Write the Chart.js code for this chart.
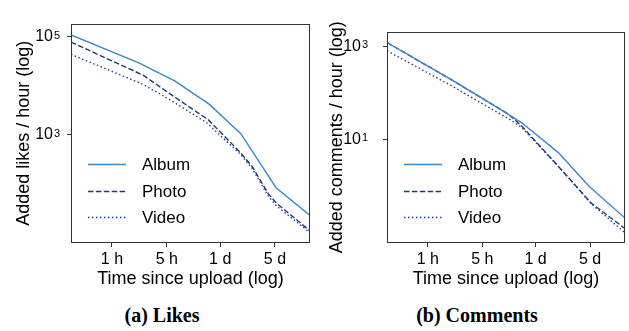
<!DOCTYPE html>
<html>
<head>
<meta charset="utf-8">
<script src="https://cdn.jsdelivr.net/npm/chart.js@4.4.1/dist/chart.umd.min.js"></script>
<style>
  html, body { margin: 0; padding: 0; background: #fff; }
  #page { position: relative; width: 629px; height: 331px; overflow: hidden; }
  .panel { position: absolute; top: 0; height: 292px; }
  .caption { position: absolute; top: 304px; font: bold 20px "Liberation Serif", "Times New Roman", serif; color: #000; transform: translateX(-50%); white-space: nowrap; }
</style>
</head>
<body>
<div id="page">
  <div class="panel" style="left:0;width:315px"><canvas id="likes" width="315" height="292"></canvas></div>
  <div class="panel" style="left:315px;width:314px"><canvas id="comments" width="314" height="292"></canvas></div>
  <div class="caption" style="left:162px">(a) Likes</div>
  <div class="caption" style="left:477px">(b) Comments</div>
</div>
<script>
// time since upload, in hours
const xTicks = [1, 5, 24, 120]
const xTickLabels = ["1 h", "5 h", "1 d", "5 d"]

// likes / hour
const likesAlbumHours = [0.3, 2.2, 6.4, 17.5, 44, 124, 336]
const likesAlbum      = [108000, 29200, 12300, 4140, 1045, 83, 22.5]
const likesPhotoHours = [0.3, 2.5, 5.8, 17, 43, 61, 99, 126, 336]
const likesPhoto      = [77100, 16300, 6400, 2000, 440, 228, 62, 40, 10.9]
const likesVideoHours = [0.3, 2.5, 5.5, 16.2, 43, 61, 99, 126, 336]
const likesVideo      = [43300, 10600, 5140, 1740, 406, 209, 56, 35, 10.1]
const likesYTicks = [1e3, 1e5]

// comments / hour
const commentsAlbumHours = [0.3, 2, 6.3, 16, 47, 118, 336]
const commentsAlbum      = [1216, 193, 60, 22.6, 5.15, 0.944, 0.2]
const commentsPhotoHours = [0.3, 2, 6.3, 10.7, 16, 47, 124, 336]
const commentsPhoto      = [1216, 193, 60, 35.2, 19.2, 2.61, 0.42, 0.119]
const commentsVideoHours = [0.3, 2, 6.3, 10.7, 16, 47, 124, 336]
const commentsVideo      = [809, 143, 46.5, 28.2, 17.9, 2.61, 0.407, 0.096]
const commentsYTicks = [1e1, 1e3]

const FAMILY = '"Liberation Sans", Arial, Helvetica, sans-serif'

const pts = (xs, ys) => xs.map((x, i) => ({ x: x, y: ys[i] }))

function series(albumX, albumY, photoX, photoY, videoX, videoY) {
  return [
    { label: "Album", data: pts(albumX, albumY), borderColor: "#3b88c9", borderDash: [], borderWidth: 1.4 },
    { label: "Photo", data: pts(photoX, photoY), borderColor: "#1b3a6e", borderDash: [5.5, 2.4], borderWidth: 1.4 },
    { label: "Video", data: pts(videoX, videoY), borderColor: "#23409a", borderDash: [1.5, 2.5], borderWidth: 1.4 }
  ]
}

// box round the plot area
const frame = {
  id: "frame",
  afterDraw(chart) {
    const { ctx, chartArea: a } = chart
    ctx.save()
    ctx.strokeStyle = "#333"
    ctx.lineWidth = 1
    ctx.strokeRect(Math.round(a.left) + 0.5, Math.round(a.top) + 0.5, Math.round(a.right - a.left) - 1, Math.round(a.bottom - a.top) - 1)
    ctx.restore()
  }
}

// exponents of the y tick labels (the "10" comes from the axis itself)
const exponents = {
  id: "exponents",
  afterDraw(chart) {
    const { ctx } = chart
    const y = chart.scales.y
    const endX = y.right - y.options.grid.tickLength - y.options.ticks.padding
    ctx.save()
    ctx.font = "11px " + FAMILY
    ctx.fillStyle = "#000"
    ctx.textAlign = "left"
    ctx.textBaseline = "alphabetic"
    y.ticks.forEach(t => {
      ctx.fillText(String(Math.round(Math.log10(t.value))), endX + 1, y.getPixelForValue(t.value) + 2)
    })
    ctx.restore()
  }
}

// legend in the lower left corner of the plot area
const insideLegend = {
  id: "insideLegend",
  afterDatasetsDraw(chart) {
    const { ctx, chartArea: a } = chart
    ctx.save()
    ctx.font = "17px " + FAMILY
    ctx.textBaseline = "middle"
    ctx.fillStyle = "#000"
    chart.data.datasets.forEach((ds, i) => {
      const y = Math.round(a.bottom - 79 + i * 26.7) + 0.5
      const x0 = a.left + 17
      ctx.strokeStyle = ds.borderColor
      ctx.lineWidth = ds.borderWidth
      ctx.setLineDash(ds.borderDash)
      ctx.beginPath()
      ctx.moveTo(x0, y)
      ctx.lineTo(x0 + 38, y)
      ctx.stroke()
      ctx.fillText(ds.label, a.left + 71, y + 1)
    })
    ctx.restore()
  }
}

function makeChart(id, datasets, o) {
  const tickFont = { family: FAMILY, size: 16 }
  const titleFont = { family: FAMILY, size: 18 }
  return new Chart(document.getElementById(id), {
    type: "line",
    data: { datasets: datasets },
    plugins: [frame, exponents, insideLegend],
    options: {
      responsive: false,
      animation: false,
      devicePixelRatio: 1,
      layout: { padding: { top: 6, right: o.rightPad, left: 0, bottom: 0 } },
      plugins: { legend: { display: false }, tooltip: { enabled: false } },
      elements: { point: { radius: 0 }, line: { tension: 0 } },
      scales: {
        x: {
          type: "logarithmic",
          min: 0.3,
          max: 336,
          bounds: "data",
          afterBuildTicks: s => { s.ticks = xTicks.map(v => ({ value: v })) },
          afterFit: s => { s.height = 49 },
          ticks: { callback: v => xTickLabels[xTicks.indexOf(v)], font: tickFont, color: "#000", padding: 3, maxRotation: 0, autoSkip: false },
          grid: { drawOnChartArea: false, drawTicks: true, tickLength: 4, tickColor: "#333" },
          border: { display: false },
          title: { display: true, text: "Time since upload (log)", font: titleFont, color: "#000", padding: { top: 0, bottom: 2 } }
        },
        y: {
          type: "logarithmic",
          min: o.yMin,
          max: o.yMax,
          bounds: "data",
          afterBuildTicks: s => { s.ticks = o.yTicks.map(v => ({ value: v })) },
          afterFit: s => { s.width = o.axisWidth },
          ticks: { callback: () => "10", font: tickFont, color: "#000", padding: o.tickPad, autoSkip: false },
          grid: { drawOnChartArea: false, drawTicks: true, tickLength: 4, tickColor: "#333" },
          border: { display: false },
          title: { display: true, text: o.yTitle, font: titleFont, color: "#000", padding: { top: o.titlePad, bottom: 0 } }
        }
      }
    }
  })
}

makeChart("likes",
  series(likesAlbumHours, likesAlbum, likesPhotoHours, likesPhoto, likesVideoHours, likesVideo),
  { yMin: 6.19, yMax: 183700, yTicks: likesYTicks, yTitle: "Added likes / hour (log)", axisWidth: 71, tickPad: 14, titlePad: 13, rightPad: 5 })

makeChart("comments",
  series(commentsAlbumHours, commentsAlbum, commentsPhotoHours, commentsPhoto, commentsVideoHours, commentsVideo),
  { yMin: 0.058, yMax: 2094, yTicks: commentsYTicks, yTitle: "Added comments / hour (log)", axisWidth: 72, tickPad: 22, titlePad: 11, rightPad: 4 })
</script>
</body>
</html>
